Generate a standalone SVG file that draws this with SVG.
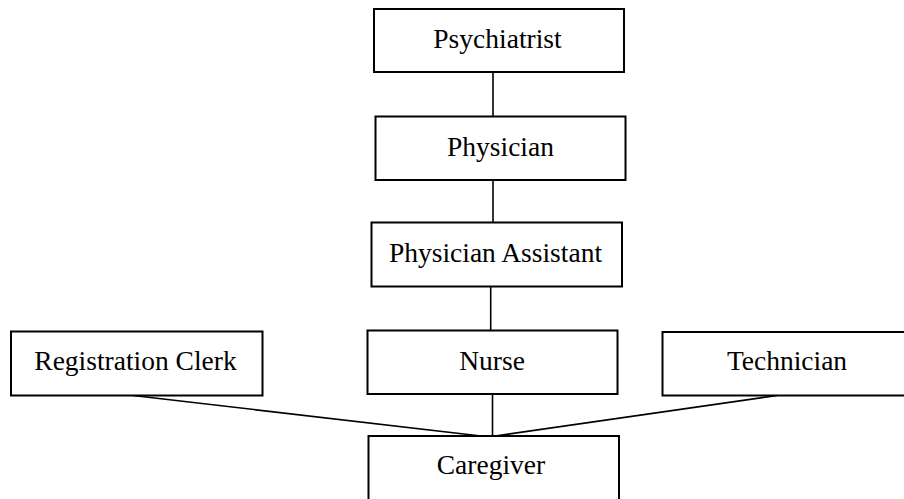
<svg xmlns="http://www.w3.org/2000/svg" width="904" height="499" viewBox="0 0 904 499">
  <style>
    .box { fill: #ffffff; stroke: #000000; stroke-width: 2; }
    .label { font-family: "Liberation Serif", "Times New Roman", serif; font-size: 27.5px; fill: #000000; text-anchor: middle; }
    .link { stroke: #000000; stroke-width: 1.6; fill: none; }
  </style>
  <rect width="904" height="499" fill="#ffffff"/>

  <g id="connectors">
    <line class="link" x1="493" y1="72" x2="493" y2="116.5"/>
    <line class="link" x1="493" y1="180" x2="493" y2="222.5"/>
    <line class="link" x1="490.7" y1="286.5" x2="490.7" y2="330.5"/>
    <line class="link" x1="492.5" y1="394" x2="492.5" y2="438.5"/>
    <line class="link" x1="133" y1="395.5" x2="481" y2="436"/>
    <line class="link" x1="777" y1="395.5" x2="495" y2="436"/>
  </g>

  <g id="psychiatrist">
    <rect class="box" x="374" y="9" width="250" height="63"/>
    <text class="label" x="497.5" y="48">Psychiatrist</text>
  </g>
  <g id="physician">
    <rect class="box" x="375.5" y="116.5" width="250" height="63.5"/>
    <text class="label" x="500.5" y="156">Physician</text>
  </g>
  <g id="physician-assistant">
    <rect class="box" x="371.5" y="222.5" width="250.5" height="64"/>
    <text class="label" x="495.5" y="262">Physician Assistant</text>
  </g>
  <g id="registration-clerk">
    <rect class="box" x="11" y="331.5" width="251.5" height="64"/>
    <text class="label" x="135.5" y="370">Registration Clerk</text>
  </g>
  <g id="nurse">
    <rect class="box" x="367.5" y="330.5" width="250" height="63.5"/>
    <text class="label" x="492" y="370">Nurse</text>
  </g>
  <g id="technician">
    <rect class="box" x="662.5" y="332" width="250" height="63.5"/>
    <text class="label" x="787" y="370">Technician</text>
  </g>
  <g id="caregiver">
    <rect class="box" x="368.5" y="436" width="250.5" height="66"/>
    <text class="label" x="491" y="474">Caregiver</text>
  </g>
</svg>
